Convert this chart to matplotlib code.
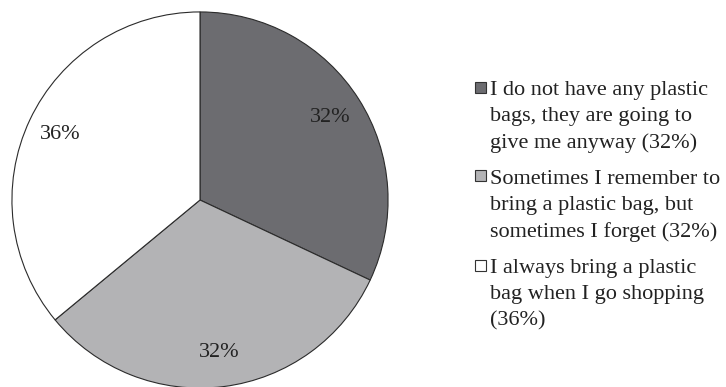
import matplotlib.pyplot as plt
from matplotlib.patches import Rectangle

# survey answers, clockwise from 12 o'clock
answers = [
    "I do not have any plastic\nbags, they are going to\ngive me anyway (32%)",
    "Sometimes I remember to\nbring a plastic bag, but\nsometimes I forget (32%)",
    "I always bring a plastic\nbag when I go shopping\n(36%)",
]
shares = [32, 32, 36]
fills = ["#6c6c70", "#b3b3b5", "#ffffff"]

W, H = 726, 387
plt.rcParams['font.family'] = ['Liberation Serif', 'DejaVu Serif']
fig = plt.figure(figsize=(W / 100, H / 100), dpi=100)

# pie: centre (200, 200) px from top-left, radius 189 px
cx, cy, r = 200, 200, 189
ax = fig.add_axes([(cx - r) / W, (H - cy - r) / H, 2 * r / W, 2 * r / H])
ax.pie(shares, colors=fills, startangle=90, counterclock=False,
       autopct='%d%%', pctdistance=0.82,
       wedgeprops=dict(edgecolor="#2b2b2b", linewidth=0.8),
       textprops=dict(fontsize=16, color="#222222"))
ax.set_xlim(-1.005, 1.005)
ax.set_ylim(-1.005, 1.005)
ax.set_aspect('equal')
ax.axis('off')

# legend built by hand: square marker + wrapped label lines
tx, box_x, box = 490, 475, 11
line_h, gap = 26.5, 36
y = 94.5  # baseline of first line, px from top
for label, fc in zip(answers, fills):
    fig.patches.append(Rectangle((box_x / W, (H - y + 2) / H), box / W, box / H,
                                 transform=fig.transFigure, facecolor=fc,
                                 edgecolor="#333333", linewidth=0.8))
    lines = label.split("\n")
    for i, ln in enumerate(lines):
        fig.text(tx / W, (H - y - i * line_h) / H, ln, fontsize=16,
                 color="#222222", ha='left', va='baseline')
    y += (len(lines) - 1) * line_h + gap

fig.savefig("out.png", dpi=100, facecolor="white")
